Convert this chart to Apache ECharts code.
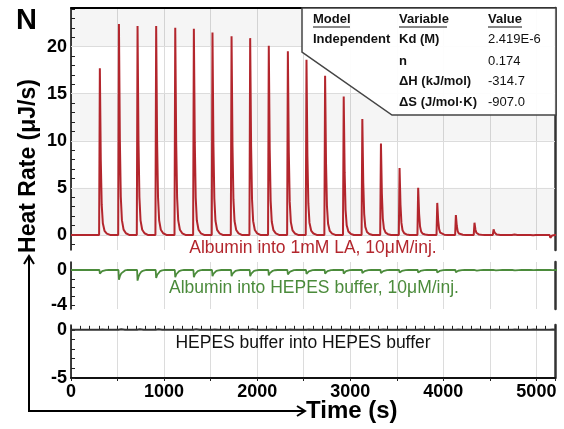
<!DOCTYPE html>
<html><head><meta charset="utf-8">
<script src="https://cdn.jsdelivr.net/npm/echarts@6/dist/echarts.min.js"></script>
<style>html,body{margin:0;padding:0;background:#fff}#c{width:564px;height:429px}</style>
</head><body><div id="c"></div>
<script>
// ---- data ----
const injTimes = [310,515,715,915,1120,1320,1520,1725,1925,2125,2330,2530,2730,2930,3130,3330,3530,3730,3935,4135,4335,4540,4745,4945,5150];
const redPeaks = [17.7,22.4,22.2,22.2,22.0,21.9,21.5,21.1,20.9,20.1,19.5,18.6,16.9,14.7,12.3,9.7,7.1,5.0,3.4,2.1,1.3,0.6,0.2,-0.2,-0.3];
const greenDips = [-0.4,-1.1,-1.2,-0.9,-0.8,-0.8,-0.7,-0.7,-0.7,-0.6,-0.5,-0.45,-0.4,-0.4,-0.35,-0.35,-0.3,-0.3,-0.3,-0.25,-0.2,-0.15,-0.1,-0.05,-0.05];
const blackBumps = [0.1,0.15,0.15,0.15,0.12,0.15,0.12,0.12,0.15,0.12,0.12,0.1,0.12,0.1,0.1,0.12,0.1,0.1,0.1,0.08,0.1,0.08,0.08,0.08,0.08];
// peak / dip profile (seconds after injection, fraction of amplitude)
const peakShapeT = [-8,0,10,20,32,50,75,110];
const peakShapeF = [0,1,0.45,0.18,0.07,0.025,0.008,0];
const dipShapeT = [-5,0,12,25,42,65,95];
const dipShapeF = [0,1,0.6,0.35,0.15,0.05,0];
const xLabelValues = [0,1000,2000,3000,4000,5000];
const redLabelValues = [0,5,10,15,20];
const redBands = [[0,5],[10,15],[20,24.1]];
const greenLabelValues = [0,-4];
const blackLabelValues = [0,-5];
const captions = ['Albumin into 1mM LA, 10\u03bcM/inj.','Albumin into HEPES buffer, 10\u03bcM/inj.','HEPES buffer into HEPES buffer'];
const tableHeader = ['Model','Variable','Value'];
const tableRows = [['Independent','Kd (M)','2.419E-6'],['','n','0.174'],['','\u0394H (kJ/mol)','-314.7'],['','\u0394S (J/mol\u00b7K)','-907.0']];

const XMAX = 5200;
function trace(times, amps, shT, shF) {
  const pts = [[0,0]];
  times.forEach((t,i)=>{ shT.forEach((d,j)=>pts.push([t+d, amps[i]*shF[j]])); });
  if (pts[pts.length-1][0] < XMAX) pts.push([XMAX,0]);
  return pts;
}
function range(a,b){const r=[];for(let i=a;i<=b;i++)r.push(i);return r;}

const FONT = '"Liberation Sans", Arial, Helvetica, sans-serif';
const gridCol = '#dcdcdc';
const chart = echarts.init(document.getElementById('c'), null, {renderer:'canvas'});

function xBase(gi, extra) {
  return Object.assign({type:'value', gridIndex:gi, min:0, max:XMAX, interval:500,
    axisLine:{show:false}, axisTick:{show:false}, axisLabel:{show:false},
    splitLine:{show:true, lineStyle:{color:gridCol, width:1}}}, extra||{});
}
function yLeft(gi, min, max, labels, ticks) {
  return {type:'value', gridIndex:gi, min:min, max:max, position:'left',
    axisLine:{show:true, onZero:false, lineStyle:{color:'#000', width:1.5}},
    axisTick:{show:true, inside:true, length:4, customValues:ticks, lineStyle:{color:'#222', width:1}},
    axisLabel:{show:true, customValues:labels, formatter:v=>String(v), fontFamily:FONT, fontWeight:'bold', fontSize:18, color:'#000', margin:4},
    splitLine:{show:false}};
}
function yRight(gi, min, max) {
  return {type:'value', gridIndex:gi, min:min, max:max, position:'right',
    axisLine:{show:true, onZero:false, lineStyle:{color:'#333', width:2.5}},
    axisTick:{show:false}, axisLabel:{show:false}, splitLine:{show:false}};
}

const graphic = [];
graphic.push({type:'text', left:16, top:6, style:{text:'N', font:'bold 29px '+FONT, fill:'#000'}});
graphic.push({type:'text', x:29, y:166, rotation:Math.PI/2, style:{text:'Heat Rate (\u03bcJ/s)', x:0, y:0, textAlign:'center', textVerticalAlign:'middle', font:'bold 23px '+FONT, fill:'#000'}});
graphic.push({type:'polyline', shape:{points:[[29,257],[29,411],[304,411]]}, style:{stroke:'#000', lineWidth:2, fill:null}});
graphic.push({type:'polyline', shape:{points:[[24,264],[29,256],[34,264]]}, style:{stroke:'#000', lineWidth:2, fill:null}});
graphic.push({type:'polyline', shape:{points:[[297,406],[305,411],[297,416]]}, style:{stroke:'#000', lineWidth:2, fill:null}});
graphic.push({type:'text', x:306, y:411, style:{text:'Time (s)', x:0, y:0, textVerticalAlign:'middle', font:'bold 24px '+FONT, fill:'#000'}});
// captions
const capPos = [[313,248,'#b3262d'],[314,288,'#4b8b3b'],[303,343,'#111']];
captions.forEach((c,i)=>graphic.push({type:'text', x:capPos[i][0], y:capPos[i][1], z:10, style:{text:c, x:0, y:0, textAlign:'center', textVerticalAlign:'middle', font:'17.5px '+FONT, fill:capPos[i][2]}}));
// table
graphic.push({type:'polygon', z:20, shape:{points:[[302,8],[556,8],[556,115],[392,115],[302,52]]}, style:{fill:'rgba(255,255,255,0.93)', stroke:'#444', lineWidth:1.5}});
const colX = [313,399,488];
const rowY = [39,61,81,102];
const underlineW = [37,48,34];
tableHeader.forEach((h,i)=>{
  graphic.push({type:'text', z:21, x:colX[i], y:19, style:{text:h, x:0, y:0, textVerticalAlign:'middle', font:'bold 13px '+FONT, fill:'#111'}});
  graphic.push({type:'line', z:21, shape:{x1:colX[i], y1:27, x2:colX[i]+underlineW[i], y2:27}, style:{stroke:'#111', lineWidth:1}});
});
tableRows.forEach((r,ri)=>r.forEach((c,ci)=>{
  if (!c) return;
  graphic.push({type:'text', z:21, x:colX[ci], y:rowY[ri], style:{text:c, x:0, y:0, textVerticalAlign:'middle', font:(ci<2?'bold ':'')+'13px '+FONT, fill:'#111'}});
}));

const option = {
  animation:false,
  backgroundColor:'#fff',
  grid:[
    {left:71, right:9, top:8, height:242},
    {left:71, right:9, top:262, height:47},
    {left:71, right:9, top:325, height:53}
  ],
  xAxis:[
    xBase(0),
    xBase(0, {position:'top', splitLine:{show:false}, axisLine:{show:true, onZero:false, lineStyle:{color:'#000', width:2}}}),
    xBase(1),
    xBase(2, {position:'bottom', axisLine:{show:true, onZero:false, lineStyle:{color:'#111', width:2}},
      axisTick:{show:true, inside:false, length:3, lineStyle:{color:'#222'}},
      axisLabel:{show:true, customValues:xLabelValues, formatter:v=>String(v), fontFamily:FONT, fontWeight:'bold', fontSize:18, color:'#000', margin:5}}),
    xBase(2, {interval:100, position:'bottom', splitLine:{show:false},
      axisTick:{show:true, inside:true, length:4, lineStyle:{color:'#222'}}})
  ],
  yAxis:[
    yLeft(0, -1.6, 24.1, redLabelValues, range(-1,24)),
    yRight(0, -1.6, 24.1),
    yLeft(1, -4.4, 0.9, greenLabelValues, range(-4,0)),
    yRight(1, -4.4, 0.9),
    yLeft(2, -5, 0.5, blackLabelValues, range(-5,0)),
    yRight(2, -5, 0.5)
  ],
  series:[
    {type:'line', xAxisIndex:0, yAxisIndex:0, showSymbol:false, symbol:'none', z:5,
     lineStyle:{color:'#b3262d', width:2},
     data:trace(injTimes, redPeaks, peakShapeT, peakShapeF),
     markArea:{silent:true, itemStyle:{color:'rgba(0,0,0,0.04)'}, data:redBands.map(b=>[{yAxis:b[0]},{yAxis:b[1]}])},
     markLine:{silent:true, symbol:'none', label:{show:false}, lineStyle:{color:gridCol, width:1, type:'solid'}, data:redLabelValues.map(v=>({yAxis:v}))}
    },
    {type:'line', xAxisIndex:2, yAxisIndex:2, showSymbol:false, symbol:'none', z:5,
     lineStyle:{color:'#4b8b3b', width:1.8},
     data:trace(injTimes, greenDips, dipShapeT, dipShapeF)},
    {type:'line', xAxisIndex:3, yAxisIndex:4, showSymbol:false, symbol:'none', z:5,
     lineStyle:{color:'#333', width:2},
     data:trace(injTimes, blackBumps, dipShapeT, dipShapeF)}
  ],
  graphic:graphic
};
chart.setOption(option);
</script>
</body></html>
